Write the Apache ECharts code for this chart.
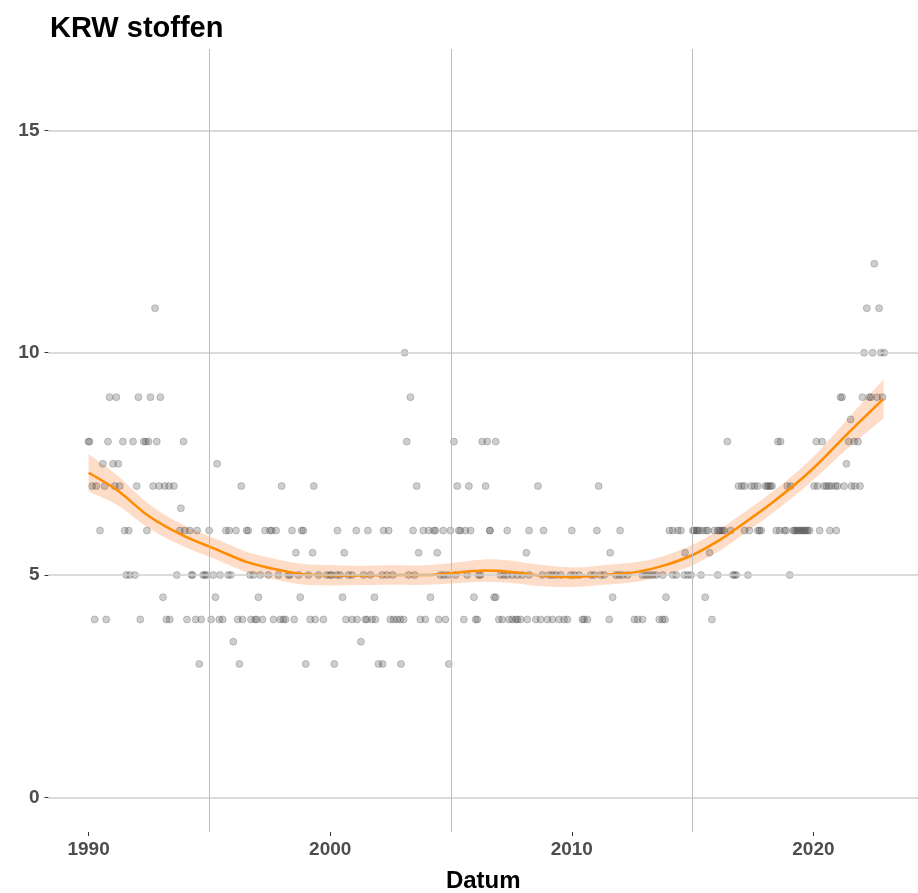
<!DOCTYPE html>
<html>
<head>
<meta charset="utf-8">
<title>KRW stoffen</title>
<script src="https://cdn.jsdelivr.net/npm/echarts@6/dist/echarts.min.js"></script>
<style>
  html, body { margin: 0; padding: 0; background: #ffffff; }
  #chart { width: 918px; height: 893px; }
</style>
</head>
<body>
<div id="chart"></div>
<script>
  // sample dates (decimal years) per measured value
  const yr3 = [1994.58, 1996.24, 1998.99, 2000.17, 2002.0, 2002.17, 2002.93, 2004.91];
  const yr35 = [1995.99, 2001.27];
  const yr4 = [1990.25, 1990.73, 1992.14, 1993.22, 1993.36, 1994.07, 1994.43, 1994.66, 1995.07, 1995.41,
    1995.55, 1996.17, 1996.37, 1996.72, 1996.89, 1996.96, 1997.2, 1997.65, 1997.93, 1998.06, 1998.15,
    1998.51, 1999.17, 1999.38, 1999.72, 2000.65, 2000.9, 2001.11, 2001.45, 2001.52, 2001.73, 2001.87,
    2002.49, 2002.63, 2002.77, 2002.9, 2003.04, 2003.73, 2003.94, 2004.49, 2004.77, 2005.53, 2006.02,
    2006.09, 2006.98, 2007.12, 2007.4, 2007.54, 2007.68, 2007.75, 2007.88, 2008.16, 2008.51, 2008.71,
    2008.99, 2009.2, 2009.47, 2009.68, 2009.82, 2010.44, 2010.51, 2010.65, 2011.55, 2012.59, 2012.73,
    2012.93, 2013.62, 2013.76, 2013.86, 2015.8];
  const yr45 = [1993.08, 1995.25, 1997.03, 1998.76, 2000.51, 2001.83, 2004.15, 2005.95, 2006.78, 2006.85,
    2011.69, 2013.9, 2015.52];
  const yr5 = [1991.56, 1991.7, 1991.92, 1993.65, 1994.26, 1994.3, 1994.74, 1994.81, 1994.88, 1995.16,
    1995.44, 1995.78, 1995.89, 1996.68, 1996.82, 1997.1, 1997.44, 1997.86, 1998.27, 1998.34, 1998.69,
    1999.1, 1999.52, 1999.86, 2000.0, 2000.07, 2000.28, 2000.41, 2000.76, 2000.9, 2001.38, 2001.66,
    2002.15, 2002.35, 2002.59, 2003.25, 2003.49, 2004.56, 2004.7, 2004.87, 2005.19, 2005.67, 2006.15,
    2006.22, 2007.05, 2007.19, 2007.33, 2007.54, 2007.75, 2007.95, 2008.23, 2008.78, 2009.06, 2009.2,
    2009.34, 2009.54, 2009.96, 2010.1, 2010.3, 2010.79, 2010.93, 2011.2, 2011.34, 2011.83, 2011.96,
    2012.1, 2012.31, 2012.93, 2013.07, 2013.21, 2013.35, 2013.49, 2013.76, 2014.18, 2014.32, 2014.66,
    2014.8, 2014.94, 2015.35, 2016.04, 2016.67, 2016.74, 2016.81, 2017.29, 2019.02];
  const yr55 = [1998.58, 1999.27, 2000.58, 2003.66, 2004.43, 2008.12, 2011.59, 2014.69, 2015.7];
  const yr6 = [1990.47, 1991.49, 1991.66, 1992.41, 1993.78, 1993.98, 1994.19, 1994.49, 1994.99, 1995.68,
    1995.82, 1996.1, 1996.54, 1996.61, 1997.3, 1997.51, 1997.58, 1997.76, 1998.42, 1998.82, 1998.89,
    2000.3, 2001.08, 2001.56, 2002.21, 2002.42, 2003.43, 2003.85, 2004.08, 2004.29, 2004.36, 2004.68,
    2004.98, 2005.32, 2005.39, 2005.6, 2005.81, 2006.61, 2006.61, 2007.33, 2008.23, 2008.83, 2010.0,
    2011.04, 2012.0, 2014.04, 2014.18, 2014.39, 2014.52, 2015.01, 2015.07, 2015.14, 2015.21, 2015.28,
    2015.42, 2015.56, 2015.63, 2015.9, 2016.04, 2016.1, 2016.17, 2016.24, 2016.31, 2016.58, 2017.15,
    2017.35, 2017.7, 2017.77, 2017.84, 2018.46, 2018.6, 2018.8, 2018.87, 2019.16, 2019.22, 2019.29,
    2019.36, 2019.43, 2019.5, 2019.57, 2019.63, 2019.7, 2019.77, 2019.84, 2020.26, 2020.68, 2020.95];
  const yr65 = [1993.82];
  const yr7 = [1990.15, 1990.32, 1990.66, 1991.08, 1991.29, 1991.99, 1992.67, 1992.92, 1993.15, 1993.33,
    1993.53, 1996.32, 1997.99, 1999.32, 2003.58, 2005.26, 2005.74, 2006.43, 2008.6, 2011.11, 2016.9,
    2017.04, 2017.15, 2017.43, 2017.56, 2017.7, 2018.01, 2018.09, 2018.15, 2018.23, 2018.29, 2018.92,
    2019.06, 2020.03, 2020.17, 2020.44, 2020.54, 2020.64, 2020.75, 2020.91, 2021.0, 2021.27, 2021.58,
    2021.72, 2021.93];
  const yr75 = [1990.59, 1991.01, 1991.23, 1995.32, 2021.37];
  const yr8 = [1989.99, 1990.04, 1990.8, 1991.42, 1991.84, 1992.28, 1992.37, 1992.48, 1992.82, 1993.93,
    2003.17, 2005.12, 2006.29, 2006.5, 2006.85, 2016.44, 2018.53, 2018.64, 2020.12, 2020.36, 2021.46,
    2021.69, 2021.85];
  const yr85 = [2021.54];
  const yr9 = [1990.87, 1991.15, 1992.06, 1992.56, 1992.97, 2003.32, 2021.12, 2021.19, 2022.03, 2022.31,
    2022.38, 2022.64, 2022.86];
  const yr10 = [2003.08, 2022.1, 2022.45, 2022.79, 2022.93];
  const yr11 = [1992.75, 2022.21, 2022.72];
  const yr12 = [2022.52];

  // loess trend with its confidence band
  const smoothX = [1990, 1991.2, 1992.5, 1993.9, 1995.4, 1996.5, 1997.4, 1998.7, 1999.5, 2001, 2002.5,
    2004, 2005, 2006.4, 2007.5, 2008.5, 2010, 2011.3, 2012.7, 2013.8, 2015, 2016.1, 2016.7, 2018.4,
    2019.9, 2021.4, 2022.9];
  const smoothY = [7.3, 6.9, 6.32, 5.89, 5.55, 5.3, 5.17, 5.03, 5.0, 4.99, 5.0, 5.0, 5.04, 5.1, 5.07,
    5.0, 4.95, 5.0, 5.07, 5.21, 5.45, 5.78, 6.0, 6.67, 7.35, 8.17, 8.96];
  const smoothLo = [6.88, 6.57, 6.05, 5.65, 5.32, 5.07, 4.94, 4.8, 4.77, 4.77, 4.78, 4.78, 4.81, 4.85,
    4.82, 4.76, 4.73, 4.78, 4.85, 4.99, 5.22, 5.54, 5.76, 6.43, 7.09, 7.84, 8.52];
  const smoothHi = [7.72, 7.23, 6.59, 6.13, 5.78, 5.53, 5.4, 5.26, 5.23, 5.21, 5.22, 5.22, 5.27, 5.35,
    5.32, 5.24, 5.17, 5.22, 5.29, 5.43, 5.68, 6.02, 6.24, 6.91, 7.61, 8.5, 9.4];

  const xTicks = [1990, 2000, 2010, 2020];
  const yTicks = [0, 5, 10, 15];
  const xGrid = [1995, 2005, 2015];

  const levels = [
    [3, yr3], [3.5, yr35], [4, yr4], [4.5, yr45], [5, yr5], [5.5, yr55], [6, yr6], [6.5, yr65],
    [7, yr7], [7.5, yr75], [8, yr8], [8.5, yr85], [9, yr9], [10, yr10], [11, yr11], [12, yr12]
  ];
  const points = [];
  levels.forEach(([v, yrs]) => yrs.forEach((t) => points.push([t, v])));

  const font = 'Liberation Sans, Arial, sans-serif';
  const labelStyle = { fontFamily: font, fontWeight: 'bold', fontSize: 19, color: '#4d4d4d' };
  const SMOOTH = 0.35;

  const chart = echarts.init(document.getElementById('chart'));
  chart.setOption({
    animation: false,
    title: {
      text: 'KRW stoffen',
      left: 50,
      top: 14,
      padding: 0,
      textStyle: { fontFamily: font, fontWeight: 'bold', fontSize: 29, color: '#000000' }
    },
    grid: { left: 48.5, right: 0, top: 49, bottom: 61, outerBoundsMode: 'none' },
    xAxis: {
      type: 'value',
      min: 1988.34,
      max: 2024.33,
      name: 'Datum',
      nameLocation: 'middle',
      nameGap: 37,
      nameTextStyle: { fontFamily: font, fontWeight: 'bold', fontSize: 24, color: '#000000' },
      axisLine: { show: false, onZero: false },
      axisTick: { show: true, customValues: xTicks, length: 4, lineStyle: { color: '#333333' } },
      axisLabel: Object.assign({ customValues: xTicks, margin: 8, formatter: (v) => String(v) }, labelStyle),
      splitLine: { show: false }
    },
    yAxis: {
      type: 'value',
      min: -0.78,
      max: 16.83,
      axisLine: { show: false, onZero: false },
      axisTick: { show: true, customValues: yTicks, length: 4, lineStyle: { color: '#333333' } },
      axisLabel: Object.assign({ customValues: yTicks, margin: 9 }, labelStyle),
      splitLine: { show: false }
    },
    series: [
      {
        // confidence band; also carries the panel grid lines
        type: 'custom',
        z: 1,
        silent: true,
        data: [[smoothX[0], smoothY[0]]],
        renderItem: function (params, api) {
          const n = smoothX.length;
          const pts = [];
          pts.push(api.coord([smoothX[0], smoothHi[0]]));
          for (let i = 0; i < n; i++) pts.push(api.coord([smoothX[i], smoothHi[i]]));
          pts.push(api.coord([smoothX[n - 1], smoothHi[n - 1]]));
          pts.push(api.coord([smoothX[n - 1], smoothLo[n - 1]]));
          for (let i = n - 1; i >= 0; i--) pts.push(api.coord([smoothX[i], smoothLo[i]]));
          pts.push(api.coord([smoothX[0], smoothLo[0]]));
          return { type: 'polygon', shape: { points: pts, smooth: SMOOTH }, style: { fill: '#fddcc8' } };
        },
        markLine: {
          silent: true,
          symbol: ['none', 'none'],
          label: { show: false },
          data: yTicks.map((v) => ({ yAxis: v, lineStyle: { color: '#cfcfcf', width: 1.5, type: 'solid' } }))
            .concat(xGrid.map((v) => ({ xAxis: v, lineStyle: { color: '#bdbdbd', width: 1, type: 'solid' } })))
        }
      },
      {
        type: 'scatter',
        z: 3,
        symbolSize: 7,
        data: points,
        itemStyle: { color: 'rgba(70,70,70,0.33)', borderColor: 'rgba(40,40,40,0.35)', borderWidth: 0.8 }
      },
      {
        type: 'line',
        z: 4,
        data: smoothX.map((t, i) => [t, smoothY[i]]),
        smooth: SMOOTH,
        showSymbol: false,
        lineStyle: { color: '#ff8c00', width: 2.5 }
      }
    ]
  });
</script>
</body>
</html>
